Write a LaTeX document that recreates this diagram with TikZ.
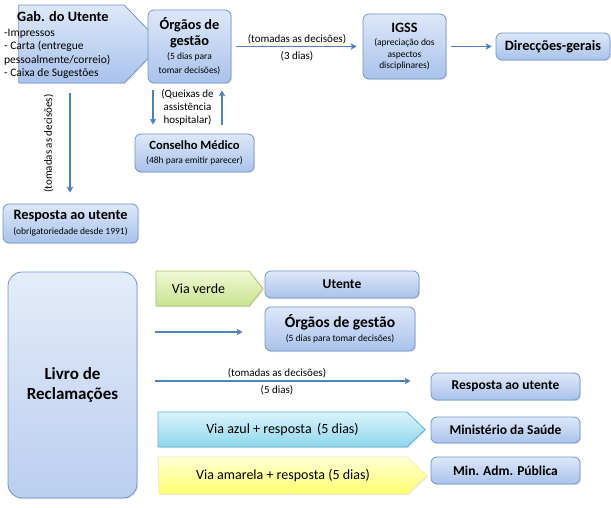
\documentclass[tikz,border=0pt]{standalone}
\usepackage{fontspec}
\setmainfont{Carlito}
\usetikzlibrary{positioning,shapes.symbols,arrows.meta,shadows}

\definecolor{boxline}{HTML}{7095CD}
\definecolor{boxtop}{HTML}{DDE8F9}
\definecolor{boxbot}{HTML}{A9C2EB}
\definecolor{flowblue}{HTML}{4F81BD}
\definecolor{greenline}{HTML}{A6C466}
\definecolor{greentop}{HTML}{F0F8D6}
\definecolor{greenbot}{HTML}{C9E38E}
\definecolor{cyanline}{HTML}{5AB3CE}
\definecolor{cyantop}{HTML}{DAF3FB}
\definecolor{cyanbot}{HTML}{8ED7EE}
\definecolor{yellowline}{HTML}{F4F1A8}
\definecolor{yellowtop}{HTML}{FFFFD6}
\definecolor{yellowbot}{HTML}{FFFF70}

\newcommand{\ttl}[1]{{\bfseries\fontsize{14.3}{17}\selectfont #1}}
\newcommand{\sml}[1]{{\fontsize{9.5}{11}\selectfont #1}}

\begin{document}
\begin{tikzpicture}[x=1pt,y=-1pt]
  \tikzset{
  box/.style={
    rectangle,
    rounded corners=6pt,
    draw=boxline,
    line width=0.8pt,
    top color=boxtop,
    bottom color=boxbot,
    align=center,
    inner sep=1pt,
    drop shadow={shadow xshift=1.2pt, shadow yshift=-1.2pt, opacity=0.2}
  },
  tag/.style={
    signal,
    signal to=east,
    line width=0.8pt,
    inner sep=1pt,
    font=\fontsize{14}{16}\selectfont,
    drop shadow={shadow xshift=1.2pt, shadow yshift=-1.2pt, opacity=0.2}
  },
  flow/.style={
    draw=flowblue,
    line width=1.3pt,
    -{Stealth[length=6pt,width=6.5pt,inset=1.5pt]}
  },
  note/.style={
    font=\fontsize{11}{13}\selectfont,
    align=center,
    inner sep=1pt
  },
  dest/.style={
    box,
    minimum width=149pt,
    minimum height=27pt,
    font=\fontsize{13.5}{16}\selectfont\bfseries
  }
}
\useasboundingbox (0,0) rectangle (611,508);

% circuito do gabinete do utente
\node[tag, draw=boxline, top color=boxtop, bottom color=boxbot,
  minimum width=143pt, minimum height=78pt, signal pointer angle=92] at (71.5,44)
  (gab) {};
\node[anchor=west, align=left, inner sep=0pt, font=\fontsize{11.5}{13.5}\selectfont] at (4,45)
  (gabtext) {\hspace*{13pt}\ttl{Gab. do Utente}\\[1pt]-Impressos\\- Carta (entregue\\pessoalmente/correio)\\- Caixa de Sugestões};
\node[box, minimum width=83pt, minimum height=73pt, font=\fontsize{9.5}{14}\selectfont] at (189.5,46.5)
  (orgaos) {\ttl{Órgãos de}\\[2pt]\ttl{gestão}\\\sml{(5 dias para}\\\sml{tomar decisões)}};
\node[box, minimum width=83pt, minimum height=65pt, font=\fontsize{9.5}{11.5}\selectfont] at (404.5,46.5)
  (igss) {\ttl{IGSS}\\[2pt]\sml{(apreciação dos}\\\sml{aspectos}\\\sml{disciplinares)}};
\node[box, minimum width=114pt, minimum height=27pt] at (553,46.5)
  (direccoes) {{\bfseries\fontsize{14.3}{17}\selectfont Direcções-gerais}};
\node[box, minimum width=119pt, minimum height=38pt, font=\fontsize{9.5}{14.5}\selectfont] at (194.5,153)
  (conselho) {{\bfseries\fontsize{12.6}{15}\selectfont Conselho Médico}\\\sml{(48h para emitir parecer)}};
\node[box, minimum width=135pt, minimum height=39pt, font=\fontsize{9.5}{15}\selectfont] at (70.5,223.5)
  (resposta) {\ttl{Resposta ao utente}\\\sml{(obrigatoriedade desde 1991)}};

  \path[flow, shorten <=5pt, shorten >=6pt]
  (orgaos) edge node[note, above=1pt] {(tomadas as decisões)}
    node[note, below=3pt] {(3 dias)} (igss);

  \path[flow, shorten <=5pt, shorten >=4pt]
  (igss) edge (direccoes);

  \draw[flow, shorten <=7pt, shorten >=9pt]
  ([xshift=-36.5pt]orgaos.south) -- ([xshift=-41.5pt]conselho.north);
  \draw[flow, shorten <=9pt, shorten >=7pt]
  ([xshift=27.5pt]conselho.north) -- ([xshift=32.5pt]orgaos.south);
\node[note] at (187.5,107) (queixas) {(Queixas de\\assistência\\hospitalar)};

  \draw[flow, shorten <=10pt, shorten >=11pt]
  ([xshift=-1.5pt]gab.south) -- ([xshift=-0.5pt]resposta.north)
    node[midway, rotate=90, anchor=south, inner sep=16pt, font=\fontsize{11}{13}\selectfont] {(tomadas as decisões)};

% circuito do livro de reclamacoes
\node[box, rounded corners=14pt, top color=boxtop!80!white, bottom color=boxbot!80!white,
  minimum width=129pt, minimum height=226pt, font=\fontsize{17}{20}\selectfont\bfseries] at (72.5,385)
  (livro) {Livro de\\Reclamações};
\node[tag, draw=greenline, top color=greentop, bottom color=greenbot,
  minimum width=107pt, minimum height=35pt, signal pointer angle=103] at (202.5,288.5)
  (verde) {Via verde\hspace*{8pt}};
\node[tag, draw=cyanline, top color=cyantop, bottom color=cyanbot,
  minimum width=267pt, minimum height=35pt, signal pointer angle=88] at (282.5,429.5)
  (azul) {Via azul + resposta\, (5 dias)};
\node[tag, draw=yellowline, top color=yellowtop, bottom color=yellowbot,
  minimum width=268pt, minimum height=37pt, signal pointer angle=88] at (283,475.5)
  (amarela) {Via amarela + resposta (5 dias)};

\node[dest, minimum width=154pt] at (342,284.5)
  (utente) {Utente};
\node[box, minimum width=150pt, minimum height=44pt, font=\fontsize{9.5}{14.5}\selectfont] at (340,329)
  (orgaosb) {{\bfseries\fontsize{15.5}{17}\selectfont Órgãos de gestão}\\\sml{(5 dias para tomar decisões)}};
\node[dest] at (505.5,386.5)
  (respostab) {Resposta ao utente};
\node[dest, minimum height=26pt] at (505.5,430)
  (ministerio) {Ministério da Saúde};
\node[dest] at (505.5,470.5)
  (minadm) {Min. Adm. Pública};

  \draw[flow, shorten <=18pt, shorten >=22pt]
  ([yshift=53pt]livro.east) -- ([yshift=-3pt]orgaosb.west);

  \draw[flow, shorten <=18pt, shorten >=20pt]
  ([yshift=4pt]livro.east) -- ([yshift=5.5pt]respostab.west)
    node[note, midway, above=1pt, xshift=-7pt] {(tomadas as decisões)}
    node[note, midway, below=3pt, xshift=-7pt] {(5 dias)};

\end{tikzpicture}
\end{document}
